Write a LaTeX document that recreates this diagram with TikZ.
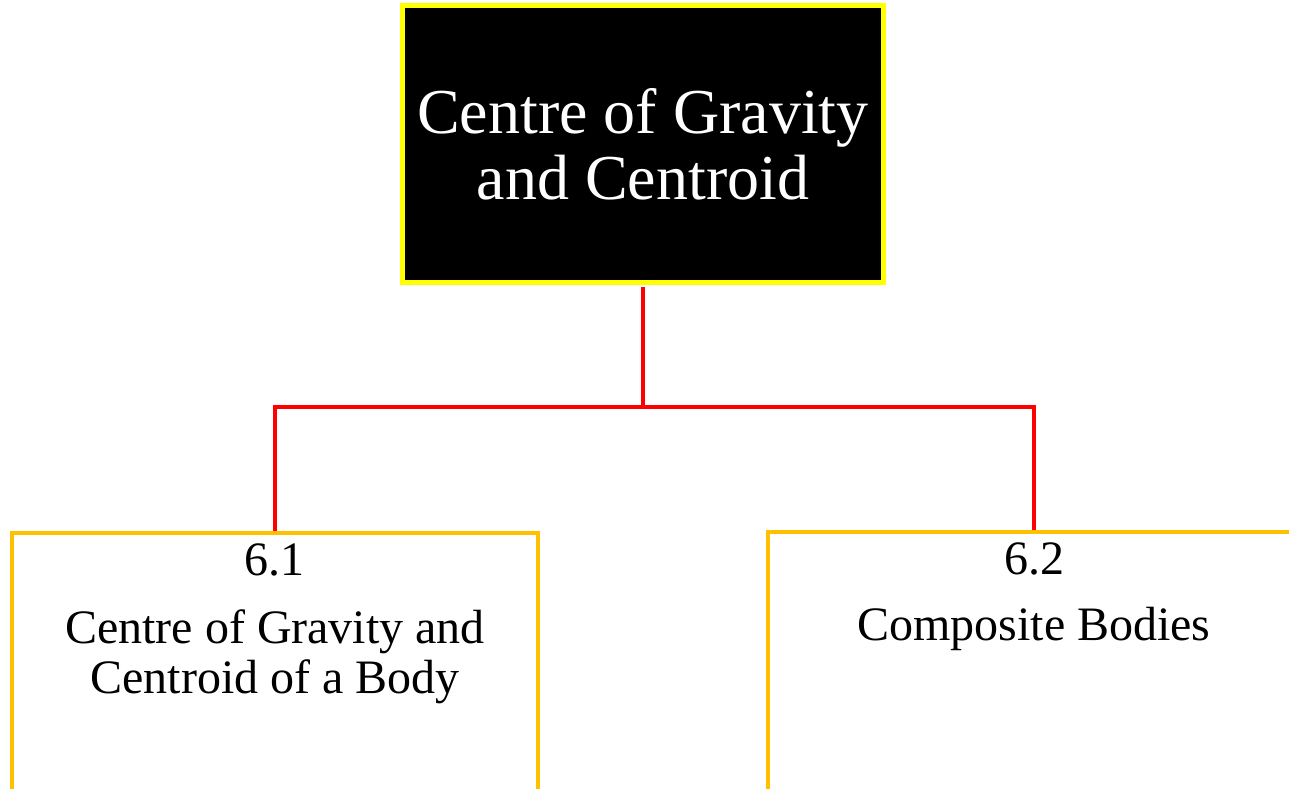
\documentclass[tikz,border=0pt]{standalone}
\usepackage{fontspec}
\setmainfont{Liberation Serif}
\usepackage{tikz}
\definecolor{headyellow}{RGB}{255,255,0}
\definecolor{boxgold}{RGB}{255,192,0}
\definecolor{linkred}{RGB}{255,0,0}
\usetikzlibrary{positioning}

\begin{document}
\begin{tikzpicture}[x=0.75pt,y=-0.75pt,
  headbox/.style={draw=headyellow, fill=black, line width=3.75pt, text=white,
    minimum width=360.75pt, minimum height=207.4pt, align=flush center,
    font=\fontsize{48}{49.5}\selectfont},
  topicbox/.style={draw=boxgold, line width=3pt, anchor=north,
    inner xsep=0pt, inner ysep=0pt, text height=32pt, text depth=162.25pt,
    align=flush center, font=\fontsize{36}{37.5}\selectfont},
  link/.style={draw=linkred, line width=3pt}]
\useasboundingbox (0,0) rectangle (1289,789);
\node[headbox] (head) at (643,144) {Centre of Gravity\\and Centroid};
\node[topicbox, text width=394.5pt] (cog) at (275,531) {6.1\\[13.5pt]Centre of Gravity and\\Centroid of a Body};
\node[topicbox, text width=399pt] (comp) at (1034,529.5) {6.2\\[12pt]Composite Bodies};
\coordinate (split) at (643,407);
\draw[link, shorten <=1.9pt] (head.south) -- (split) -| (cog.north);
\draw[link] (split) -| (comp.north);
\end{tikzpicture}
\end{document}
